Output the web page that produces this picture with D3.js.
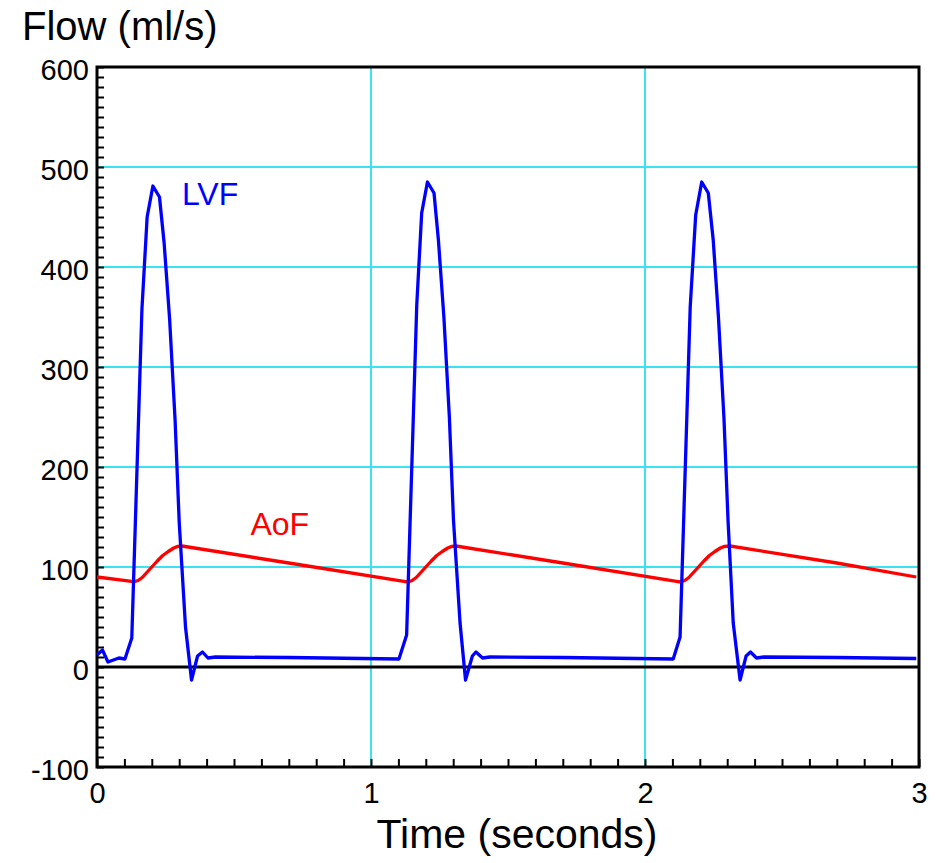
<!DOCTYPE html>
<html>
<head>
<meta charset="utf-8">
<script src="https://cdn.jsdelivr.net/npm/d3@7"></script>
<style>
  body { margin: 0; background: #fff; }
  text { font-family: "Liberation Sans", Arial, sans-serif; }
</style>
</head>
<body>
<div id="chart"></div>
<script>
'use strict';

// LVF (left ventricular flow) samples, three beats
var lvfTime = [0.00, 0.02, 0.04, 0.08, 0.102, 0.127, 0.164, 0.183, 0.204, 0.228, 0.245, 0.265, 0.285, 0.300, 0.323, 0.345, 0.367, 0.385, 0.405, 0.432, 0.70,
               1.102, 1.130, 1.167, 1.185, 1.206, 1.230, 1.246, 1.266, 1.286, 1.301, 1.325, 1.345, 1.370, 1.383, 1.407, 1.434, 1.70,
               2.103, 2.128, 2.165, 2.185, 2.207, 2.231, 2.249, 2.268, 2.288, 2.303, 2.322, 2.347, 2.369, 2.385, 2.407, 2.434, 2.70, 2.99];
var lvfFlow = [12, 17, 5, 9, 8, 29, 358, 450, 481, 470, 424, 348, 247, 145, 40, -13, 11, 15, 9, 10, 9.5,
               8, 32, 362, 454, 485, 474, 427, 350, 250, 147, 44, -13, 11, 15, 9, 10, 9.5,
               8, 30, 360, 452, 485, 474, 427, 350, 250, 147, 44, -13, 11, 15, 9, 10, 9.5, 8.5];

// AoF (aortic flow) samples
var aofTime = [0.00, 0.12, 0.135, 0.15, 0.165, 0.18, 0.20, 0.22, 0.24, 0.26, 0.28, 0.295, 0.31, 0.70,
               1.12, 1.135, 1.15, 1.165, 1.18, 1.20, 1.22, 1.24, 1.26, 1.28, 1.295, 1.31, 1.70,
               2.115, 2.13, 2.145, 2.16, 2.175, 2.195, 2.215, 2.235, 2.255, 2.275, 2.29, 2.31, 2.70, 2.99];
var aofFlow = [90, 85.8, 85.2, 86.5, 89.5, 94, 100, 106, 111.5, 115.5, 119, 120.6, 121, 104,
               85.6, 85, 86.5, 89.5, 94, 100, 106, 111.5, 115.5, 119, 120.6, 121, 104,
               85.6, 85, 86.5, 89.5, 94, 100, 106, 111.5, 115.5, 119, 120.6, 121, 104, 90];

var yTicks = [-100, 0, 100, 200, 300, 400, 500, 600];
var xTicks = [0, 1, 2, 3];
var yGrid = [100, 200, 300, 400, 500];
var xGrid = [1, 2];

var margin = {top: 67, right: 30, bottom: 96, left: 97},
    width  = 949 - margin.left - margin.right,
    height = 863 - margin.top  - margin.bottom;

var x = d3.scaleLinear().domain([0, 3]).range([0, width]);
var y = d3.scaleLinear().domain([-100, 600]).range([height, 0]);

var svg = d3.select("#chart")
    .append("svg")
    .attr("width", 949)
    .attr("height", 863)
    .append("g").attr("transform", "translate(" + margin.left + "," + margin.top + ")");

// grid
svg.selectAll(".hgrid").data(yGrid).enter().append("line")
    .attr("x1", 0).attr("x2", width)
    .attr("y1", function(d) { return y(d); }).attr("y2", function(d) { return y(d); })
    .attr("stroke", "#3be3f0").attr("stroke-width", 2);
svg.selectAll(".vgrid").data(xGrid).enter().append("line")
    .attr("y1", 0).attr("y2", height)
    .attr("x1", function(d) { return x(d); }).attr("x2", function(d) { return x(d); })
    .attr("stroke", "#3be3f0").attr("stroke-width", 2);

// zero line
svg.append("line")
    .attr("x1", 0).attr("x2", width)
    .attr("y1", y(0)).attr("y2", y(0))
    .attr("stroke", "#000").attr("stroke-width", 3);

// minor ticks (inward)
var yMinor = svg.append("g")
    .call(d3.axisLeft(y).tickValues(d3.range(-100, 601, 10)).tickSize(-7).tickFormat(""));
var xMinor = svg.append("g")
    .attr("transform", "translate(0," + height + ")")
    .call(d3.axisBottom(x).tickValues(d3.range(0, 31).map(function(i) { return i / 10; })).tickSize(-8).tickFormat(""));
[yMinor, xMinor].forEach(function(g) {
    g.select(".domain").remove();
    g.selectAll("line").attr("stroke", "#000").attr("stroke-width", 2);
});

// labels
var yLab = svg.append("g")
    .call(d3.axisLeft(y).tickValues(yTicks).tickSize(0).tickPadding(8).tickFormat(String));
var xLab = svg.append("g")
    .attr("transform", "translate(0," + height + ")")
    .call(d3.axisBottom(x).tickValues(xTicks).tickSize(0).tickPadding(15).tickFormat(String));
[yLab, xLab].forEach(function(g) {
    g.select(".domain").remove();
    g.selectAll("text").attr("font-size", 29).attr("fill", "#000")
        .attr("font-family", "'Liberation Sans', Arial, sans-serif");
});
yLab.selectAll("text").attr("dy", "0.42em");

// frame
svg.append("rect")
    .attr("x", 0).attr("y", 0).attr("width", width).attr("height", height)
    .attr("fill", "none").attr("stroke", "#000").attr("stroke-width", 3);

// series
var lvfLine = d3.line()
    .x(function(d, i) { return x(lvfTime[i]); })
    .y(function(d) { return y(d); });
var aofLine = d3.line()
    .x(function(d, i) { return x(aofTime[i]); })
    .y(function(d) { return y(d); });

svg.append("path").datum(aofFlow)
    .attr("fill", "none").attr("stroke", "#ff0000").attr("stroke-width", 3.3)
    .attr("stroke-linejoin", "round").attr("d", aofLine);
svg.append("path").datum(lvfFlow)
    .attr("fill", "none").attr("stroke", "#0000ff").attr("stroke-width", 3.3)
    .attr("stroke-linejoin", "round").attr("d", lvfLine);

// series labels
svg.append("text").attr("x", x(0.31)).attr("y", y(462))
    .attr("fill", "#0000ff").attr("font-size", 32).text("LVF");
svg.append("text").attr("x", x(0.56)).attr("y", y(132))
    .attr("fill", "#ff0000").attr("font-size", 32).text("AoF");

// axis titles
svg.append("text").attr("x", 22 - margin.left).attr("y", 40 - margin.top)
    .attr("font-size", 40).attr("fill", "#000").text("Flow (ml/s)");
svg.append("text").attr("x", 517 - margin.left).attr("y", 848 - margin.top)
    .attr("text-anchor", "middle")
    .attr("font-size", 41).attr("fill", "#000").text("Time (seconds)");
</script>
</body>
</html>
